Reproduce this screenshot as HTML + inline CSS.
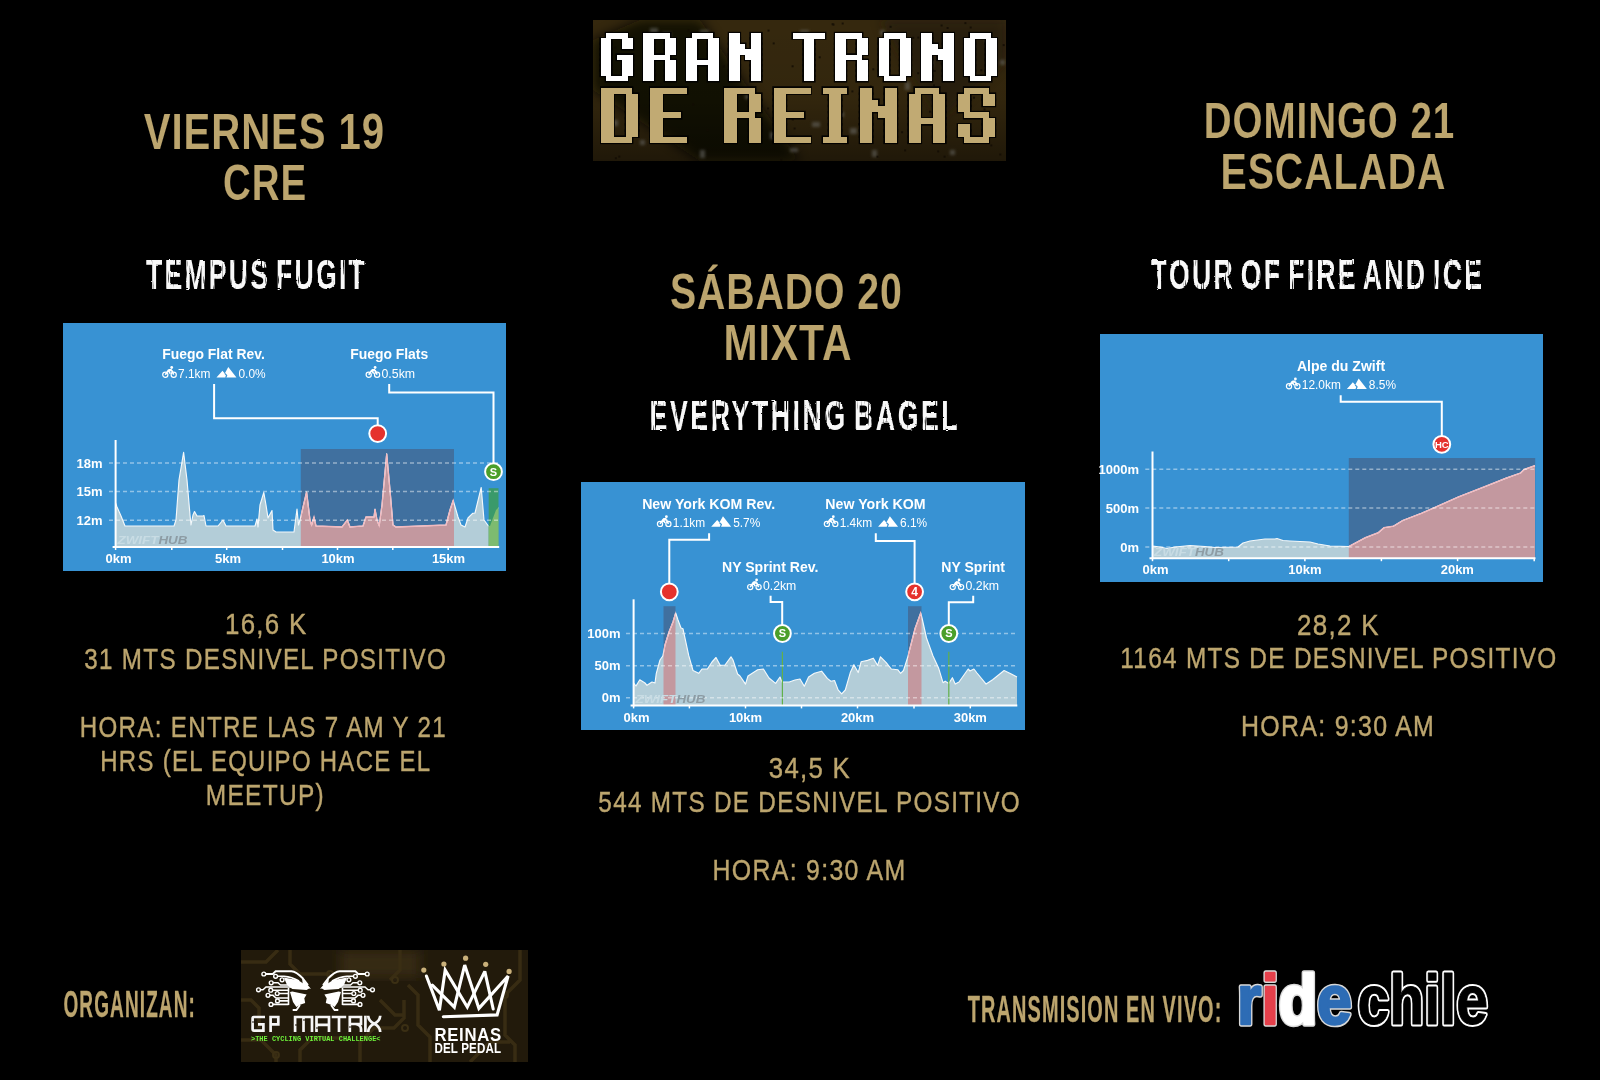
<!DOCTYPE html><html><head><meta charset="utf-8"><style>html,body{margin:0;padding:0;background:#000;width:1600px;height:1080px;overflow:hidden}svg{display:block;will-change:transform}</style></head><body>
<svg width="1600" height="1080" viewBox="0 0 1600 1080">
<defs><filter id="rough" x="-5%" y="-20%" width="110%" height="140%"><feTurbulence type="fractalNoise" baseFrequency="0.07 0.8" numOctaves="2" seed="3" result="n"/><feDisplacementMap in="SourceGraphic" in2="n" scale="3" result="d"/><feTurbulence type="fractalNoise" baseFrequency="0.9 0.06" numOctaves="1" seed="7" result="n2"/><feColorMatrix in="n2" type="matrix" values="0 0 0 0 1  0 0 0 0 1  0 0 0 0 1  -8 0 0 0 6.0" result="m"/><feComposite in="d" in2="m" operator="in"/></filter></defs>
<rect x="0" y="0" width="1600" height="1080" fill="#000"/>
<defs><linearGradient id="lg1" x1="0" y1="0" x2="1" y2="1"><stop offset="0" stop-color="#2a1f0a"/><stop offset="0.5" stop-color="#3b2c10"/><stop offset="1" stop-color="#35280e"/></linearGradient><filter id="blur3"><feGaussianBlur stdDeviation="6"/></filter></defs>
<rect x="593" y="20" width="413" height="141" fill="#35280e"/>
<g clip-path="url(#logoclip)">
<clipPath id="logoclip"><rect x="593" y="20" width="413" height="141"/></clipPath>
<linearGradient id="lgdark" x1="0" y1="0" x2="0" y2="1"><stop offset="0" stop-color="#000" stop-opacity="0"/><stop offset="0.55" stop-color="#000" stop-opacity="0.05"/><stop offset="1" stop-color="#000" stop-opacity="0.4"/></linearGradient>
<polygon points="593,40 640,20 700,20 800,161 700,161 593,90" fill="#100b04" opacity="0.85" filter="url(#blur3)"/>
<rect x="593" y="20" width="413" height="141" fill="url(#lgdark)"/>
<polygon points="880,20 1006,20 1006,60 940,120" fill="#1a1307" opacity="0.5" filter="url(#blur3)"/>
<filter id="blur1"><feGaussianBlur stdDeviation="1.6"/></filter>
<g opacity="0.55" filter="url(#blur1)"><rect x="650" y="28" width="8" height="6" fill="#6a6a66"/><rect x="662" y="32" width="9" height="6" fill="#6a6a66"/><rect x="700" y="30" width="9" height="8" fill="#6a6a66"/><rect x="688" y="40" width="4" height="7" fill="#6a6a66"/><rect x="745" y="95" width="5" height="4" fill="#6a6a66"/><rect x="755" y="105" width="5" height="4" fill="#6a6a66"/><rect x="730" y="118" width="6" height="7" fill="#6a6a66"/><rect x="770" y="132" width="5" height="7" fill="#6a6a66"/><rect x="790" y="148" width="8" height="4" fill="#6a6a66"/><rect x="812" y="122" width="8" height="5" fill="#6a6a66"/><rect x="840" y="112" width="4" height="5" fill="#6a6a66"/><rect x="850" y="128" width="7" height="6" fill="#6a6a66"/><rect x="872" y="150" width="5" height="7" fill="#6a6a66"/><rect x="865" y="100" width="5" height="4" fill="#6a6a66"/><rect x="905" y="82" width="5" height="8" fill="#6a6a66"/><rect x="925" y="60" width="8" height="7" fill="#6a6a66"/><rect x="950" y="150" width="5" height="5" fill="#6a6a66"/><rect x="985" y="38" width="4" height="4" fill="#6a6a66"/><rect x="1000" y="60" width="5" height="5" fill="#6a6a66"/><rect x="640" y="140" width="5" height="5" fill="#6a6a66"/><rect x="612" y="120" width="6" height="6" fill="#6a6a66"/><rect x="700" y="150" width="5" height="8" fill="#6a6a66"/><rect x="800" y="30" width="9" height="5" fill="#6a6a66"/><rect x="880" y="30" width="5" height="5" fill="#6a6a66"/></g>
<g fill="#120c04" opacity="0.8"><rect x="990.3" y="144.4" width="2" height="2"/><rect x="717.2" y="71.5" width="2" height="2"/><rect x="662.9" y="42.0" width="2" height="2"/><rect x="621.6" y="63.3" width="2" height="2"/><rect x="841.7" y="22.5" width="2" height="2"/><rect x="872.3" y="68.3" width="2" height="2"/><rect x="721.8" y="134.1" width="2" height="2"/><rect x="791.6" y="65.3" width="2" height="2"/><rect x="791.8" y="118.5" width="2" height="2"/><rect x="618.3" y="155.6" width="2" height="2"/><rect x="604.4" y="124.7" width="2" height="2"/><rect x="940.6" y="24.5" width="2" height="2"/><rect x="917.2" y="72.2" width="2" height="2"/><rect x="831.6" y="23.2" width="2" height="2"/><rect x="614.1" y="46.8" width="2" height="2"/><rect x="985.7" y="48.9" width="2" height="2"/><rect x="904.1" y="149.4" width="2" height="2"/><rect x="980.3" y="69.2" width="2" height="2"/><rect x="740.1" y="93.9" width="2" height="2"/><rect x="912.2" y="36.8" width="2" height="2"/><rect x="901.1" y="131.2" width="2" height="2"/><rect x="946.6" y="27.0" width="2" height="2"/><rect x="981.8" y="34.5" width="2" height="2"/><rect x="734.4" y="105.7" width="2" height="2"/><rect x="970.5" y="68.6" width="2" height="2"/><rect x="973.0" y="96.7" width="2" height="2"/><rect x="722.8" y="65.4" width="2" height="2"/><rect x="667.6" y="32.7" width="2" height="2"/><rect x="655.9" y="116.4" width="2" height="2"/><rect x="1002.7" y="44.1" width="2" height="2"/><rect x="614.9" y="157.2" width="2" height="2"/><rect x="813.2" y="77.6" width="2" height="2"/><rect x="692.1" y="103.4" width="2" height="2"/><rect x="933.0" y="84.4" width="2" height="2"/><rect x="767.5" y="29.6" width="2" height="2"/><rect x="969.7" y="26.5" width="2" height="2"/><rect x="796.9" y="136.9" width="2" height="2"/><rect x="648.4" y="122.2" width="2" height="2"/><rect x="983.5" y="108.4" width="2" height="2"/><rect x="917.3" y="36.6" width="2" height="2"/><rect x="772.7" y="42.4" width="2" height="2"/><rect x="940.5" y="62.4" width="2" height="2"/><rect x="780.3" y="158.9" width="2" height="2"/><rect x="943.6" y="155.7" width="2" height="2"/><rect x="780.5" y="88.9" width="2" height="2"/><rect x="893.4" y="87.6" width="2" height="2"/><rect x="714.0" y="77.3" width="2" height="2"/><rect x="654.9" y="73.6" width="2" height="2"/><rect x="999.3" y="153.5" width="2" height="2"/><rect x="851.4" y="90.4" width="2" height="2"/><rect x="733.4" y="34.2" width="2" height="2"/><rect x="706.4" y="129.1" width="2" height="2"/><rect x="949.8" y="71.5" width="2" height="2"/><rect x="916.5" y="128.2" width="2" height="2"/><rect x="879.1" y="113.0" width="2" height="2"/><rect x="905.7" y="71.8" width="2" height="2"/><rect x="883.1" y="60.5" width="2" height="2"/><rect x="793.6" y="127.5" width="2" height="2"/><rect x="877.6" y="62.3" width="2" height="2"/><rect x="981.7" y="111.0" width="2" height="2"/><rect x="832.5" y="23.6" width="2" height="2"/><rect x="818.7" y="56.3" width="2" height="2"/><rect x="869.7" y="85.4" width="2" height="2"/><rect x="929.0" y="110.7" width="2" height="2"/><rect x="921.2" y="69.7" width="2" height="2"/><rect x="858.4" y="123.1" width="2" height="2"/><rect x="933.7" y="70.0" width="2" height="2"/><rect x="939.7" y="141.2" width="2" height="2"/><rect x="876.5" y="155.7" width="2" height="2"/><rect x="986.2" y="93.0" width="2" height="2"/><rect x="811.5" y="44.8" width="2" height="2"/><rect x="937.2" y="150.4" width="2" height="2"/><rect x="790.2" y="116.7" width="2" height="2"/><rect x="889.4" y="122.1" width="2" height="2"/><rect x="665.3" y="128.9" width="2" height="2"/><rect x="832.6" y="113.2" width="2" height="2"/><rect x="767.1" y="107.5" width="2" height="2"/><rect x="911.9" y="109.3" width="2" height="2"/><rect x="889.6" y="25.8" width="2" height="2"/><rect x="660.4" y="82.4" width="2" height="2"/><rect x="860.9" y="52.0" width="2" height="2"/><rect x="875.6" y="108.4" width="2" height="2"/><rect x="612.1" y="86.6" width="2" height="2"/><rect x="687.5" y="29.4" width="2" height="2"/><rect x="649.6" y="65.5" width="2" height="2"/><rect x="669.3" y="48.5" width="2" height="2"/><rect x="609.6" y="85.8" width="2" height="2"/><rect x="750.5" y="105.8" width="2" height="2"/><rect x="836.4" y="54.6" width="2" height="2"/><rect x="964.4" y="22.1" width="2" height="2"/></g>
</g>
<g fill="#000" opacity="0.9"><rect x="604.70" y="31.80" width="24.20" height="7.95"/><rect x="599.30" y="37.15" width="13.40" height="7.95"/><rect x="620.90" y="37.15" width="13.40" height="7.95"/><rect x="599.30" y="42.50" width="13.40" height="7.95"/><rect x="620.90" y="42.50" width="13.40" height="7.95"/><rect x="599.30" y="47.85" width="13.40" height="7.95"/><rect x="599.30" y="53.20" width="13.40" height="7.95"/><rect x="615.50" y="53.20" width="18.80" height="7.95"/><rect x="599.30" y="58.55" width="13.40" height="7.95"/><rect x="620.90" y="58.55" width="13.40" height="7.95"/><rect x="599.30" y="63.90" width="13.40" height="7.95"/><rect x="620.90" y="63.90" width="13.40" height="7.95"/><rect x="599.30" y="69.25" width="13.40" height="7.95"/><rect x="620.90" y="69.25" width="13.40" height="7.95"/><rect x="604.70" y="74.60" width="24.20" height="7.95"/><rect x="642.00" y="31.80" width="29.60" height="7.95"/><rect x="642.00" y="37.15" width="13.40" height="7.95"/><rect x="663.60" y="37.15" width="13.40" height="7.95"/><rect x="642.00" y="42.50" width="13.40" height="7.95"/><rect x="663.60" y="42.50" width="13.40" height="7.95"/><rect x="642.00" y="47.85" width="13.40" height="7.95"/><rect x="663.60" y="47.85" width="13.40" height="7.95"/><rect x="642.00" y="53.20" width="29.60" height="7.95"/><rect x="642.00" y="58.55" width="13.40" height="7.95"/><rect x="663.60" y="58.55" width="13.40" height="7.95"/><rect x="642.00" y="63.90" width="13.40" height="7.95"/><rect x="663.60" y="63.90" width="13.40" height="7.95"/><rect x="642.00" y="69.25" width="13.40" height="7.95"/><rect x="663.60" y="69.25" width="13.40" height="7.95"/><rect x="642.00" y="74.60" width="13.40" height="7.95"/><rect x="663.60" y="74.60" width="13.40" height="7.95"/><rect x="690.40" y="31.80" width="24.20" height="7.95"/><rect x="685.00" y="37.15" width="13.40" height="7.95"/><rect x="706.60" y="37.15" width="13.40" height="7.95"/><rect x="685.00" y="42.50" width="13.40" height="7.95"/><rect x="706.60" y="42.50" width="13.40" height="7.95"/><rect x="685.00" y="47.85" width="13.40" height="7.95"/><rect x="706.60" y="47.85" width="13.40" height="7.95"/><rect x="685.00" y="53.20" width="13.40" height="7.95"/><rect x="706.60" y="53.20" width="13.40" height="7.95"/><rect x="685.00" y="58.55" width="35.00" height="7.95"/><rect x="685.00" y="63.90" width="13.40" height="7.95"/><rect x="706.60" y="63.90" width="13.40" height="7.95"/><rect x="685.00" y="69.25" width="13.40" height="7.95"/><rect x="706.60" y="69.25" width="13.40" height="7.95"/><rect x="685.00" y="74.60" width="13.40" height="7.95"/><rect x="706.60" y="74.60" width="13.40" height="7.95"/><rect x="727.70" y="31.80" width="13.40" height="7.95"/><rect x="749.30" y="31.80" width="13.40" height="7.95"/><rect x="727.70" y="37.15" width="13.40" height="7.95"/><rect x="749.30" y="37.15" width="13.40" height="7.95"/><rect x="727.70" y="42.50" width="18.80" height="7.95"/><rect x="749.30" y="42.50" width="13.40" height="7.95"/><rect x="727.70" y="47.85" width="35.00" height="7.95"/><rect x="727.70" y="53.20" width="13.40" height="7.95"/><rect x="743.90" y="53.20" width="18.80" height="7.95"/><rect x="727.70" y="58.55" width="13.40" height="7.95"/><rect x="749.30" y="58.55" width="13.40" height="7.95"/><rect x="727.70" y="63.90" width="13.40" height="7.95"/><rect x="749.30" y="63.90" width="13.40" height="7.95"/><rect x="727.70" y="69.25" width="13.40" height="7.95"/><rect x="749.30" y="69.25" width="13.40" height="7.95"/><rect x="727.70" y="74.60" width="13.40" height="7.95"/><rect x="749.30" y="74.60" width="13.40" height="7.95"/><rect x="791.40" y="31.80" width="35.00" height="7.95"/><rect x="802.20" y="37.15" width="13.40" height="7.95"/><rect x="802.20" y="42.50" width="13.40" height="7.95"/><rect x="802.20" y="47.85" width="13.40" height="7.95"/><rect x="802.20" y="53.20" width="13.40" height="7.95"/><rect x="802.20" y="58.55" width="13.40" height="7.95"/><rect x="802.20" y="63.90" width="13.40" height="7.95"/><rect x="802.20" y="69.25" width="13.40" height="7.95"/><rect x="802.20" y="74.60" width="13.40" height="7.95"/><rect x="833.80" y="31.80" width="29.60" height="7.95"/><rect x="833.80" y="37.15" width="13.40" height="7.95"/><rect x="855.40" y="37.15" width="13.40" height="7.95"/><rect x="833.80" y="42.50" width="13.40" height="7.95"/><rect x="855.40" y="42.50" width="13.40" height="7.95"/><rect x="833.80" y="47.85" width="13.40" height="7.95"/><rect x="855.40" y="47.85" width="13.40" height="7.95"/><rect x="833.80" y="53.20" width="29.60" height="7.95"/><rect x="833.80" y="58.55" width="13.40" height="7.95"/><rect x="855.40" y="58.55" width="13.40" height="7.95"/><rect x="833.80" y="63.90" width="13.40" height="7.95"/><rect x="855.40" y="63.90" width="13.40" height="7.95"/><rect x="833.80" y="69.25" width="13.40" height="7.95"/><rect x="855.40" y="69.25" width="13.40" height="7.95"/><rect x="833.80" y="74.60" width="13.40" height="7.95"/><rect x="855.40" y="74.60" width="13.40" height="7.95"/><rect x="882.60" y="31.80" width="24.20" height="7.95"/><rect x="877.20" y="37.15" width="13.40" height="7.95"/><rect x="898.80" y="37.15" width="13.40" height="7.95"/><rect x="877.20" y="42.50" width="13.40" height="7.95"/><rect x="898.80" y="42.50" width="13.40" height="7.95"/><rect x="877.20" y="47.85" width="13.40" height="7.95"/><rect x="898.80" y="47.85" width="13.40" height="7.95"/><rect x="877.20" y="53.20" width="13.40" height="7.95"/><rect x="898.80" y="53.20" width="13.40" height="7.95"/><rect x="877.20" y="58.55" width="13.40" height="7.95"/><rect x="898.80" y="58.55" width="13.40" height="7.95"/><rect x="877.20" y="63.90" width="13.40" height="7.95"/><rect x="898.80" y="63.90" width="13.40" height="7.95"/><rect x="877.20" y="69.25" width="13.40" height="7.95"/><rect x="898.80" y="69.25" width="13.40" height="7.95"/><rect x="882.60" y="74.60" width="24.20" height="7.95"/><rect x="920.00" y="31.80" width="13.40" height="7.95"/><rect x="941.60" y="31.80" width="13.40" height="7.95"/><rect x="920.00" y="37.15" width="13.40" height="7.95"/><rect x="941.60" y="37.15" width="13.40" height="7.95"/><rect x="920.00" y="42.50" width="18.80" height="7.95"/><rect x="941.60" y="42.50" width="13.40" height="7.95"/><rect x="920.00" y="47.85" width="35.00" height="7.95"/><rect x="920.00" y="53.20" width="13.40" height="7.95"/><rect x="936.20" y="53.20" width="18.80" height="7.95"/><rect x="920.00" y="58.55" width="13.40" height="7.95"/><rect x="941.60" y="58.55" width="13.40" height="7.95"/><rect x="920.00" y="63.90" width="13.40" height="7.95"/><rect x="941.60" y="63.90" width="13.40" height="7.95"/><rect x="920.00" y="69.25" width="13.40" height="7.95"/><rect x="941.60" y="69.25" width="13.40" height="7.95"/><rect x="920.00" y="74.60" width="13.40" height="7.95"/><rect x="941.60" y="74.60" width="13.40" height="7.95"/><rect x="968.30" y="31.80" width="24.20" height="7.95"/><rect x="962.90" y="37.15" width="13.40" height="7.95"/><rect x="984.50" y="37.15" width="13.40" height="7.95"/><rect x="962.90" y="42.50" width="13.40" height="7.95"/><rect x="984.50" y="42.50" width="13.40" height="7.95"/><rect x="962.90" y="47.85" width="13.40" height="7.95"/><rect x="984.50" y="47.85" width="13.40" height="7.95"/><rect x="962.90" y="53.20" width="13.40" height="7.95"/><rect x="984.50" y="53.20" width="13.40" height="7.95"/><rect x="962.90" y="58.55" width="13.40" height="7.95"/><rect x="984.50" y="58.55" width="13.40" height="7.95"/><rect x="962.90" y="63.90" width="13.40" height="7.95"/><rect x="984.50" y="63.90" width="13.40" height="7.95"/><rect x="962.90" y="69.25" width="13.40" height="7.95"/><rect x="984.50" y="69.25" width="13.40" height="7.95"/><rect x="968.30" y="74.60" width="24.20" height="7.95"/></g>
<g fill="#ffffff" shape-rendering="crispEdges"><rect x="606.00" y="33.10" width="21.60" height="5.40"/><rect x="600.60" y="38.45" width="10.80" height="5.40"/><rect x="622.20" y="38.45" width="10.80" height="5.40"/><rect x="600.60" y="43.80" width="10.80" height="5.40"/><rect x="622.20" y="43.80" width="10.80" height="5.40"/><rect x="600.60" y="49.15" width="10.80" height="5.40"/><rect x="600.60" y="54.50" width="10.80" height="5.40"/><rect x="616.80" y="54.50" width="16.20" height="5.40"/><rect x="600.60" y="59.85" width="10.80" height="5.40"/><rect x="622.20" y="59.85" width="10.80" height="5.40"/><rect x="600.60" y="65.20" width="10.80" height="5.40"/><rect x="622.20" y="65.20" width="10.80" height="5.40"/><rect x="600.60" y="70.55" width="10.80" height="5.40"/><rect x="622.20" y="70.55" width="10.80" height="5.40"/><rect x="606.00" y="75.90" width="21.60" height="5.40"/><rect x="643.30" y="33.10" width="27.00" height="5.40"/><rect x="643.30" y="38.45" width="10.80" height="5.40"/><rect x="664.90" y="38.45" width="10.80" height="5.40"/><rect x="643.30" y="43.80" width="10.80" height="5.40"/><rect x="664.90" y="43.80" width="10.80" height="5.40"/><rect x="643.30" y="49.15" width="10.80" height="5.40"/><rect x="664.90" y="49.15" width="10.80" height="5.40"/><rect x="643.30" y="54.50" width="27.00" height="5.40"/><rect x="643.30" y="59.85" width="10.80" height="5.40"/><rect x="664.90" y="59.85" width="10.80" height="5.40"/><rect x="643.30" y="65.20" width="10.80" height="5.40"/><rect x="664.90" y="65.20" width="10.80" height="5.40"/><rect x="643.30" y="70.55" width="10.80" height="5.40"/><rect x="664.90" y="70.55" width="10.80" height="5.40"/><rect x="643.30" y="75.90" width="10.80" height="5.40"/><rect x="664.90" y="75.90" width="10.80" height="5.40"/><rect x="691.70" y="33.10" width="21.60" height="5.40"/><rect x="686.30" y="38.45" width="10.80" height="5.40"/><rect x="707.90" y="38.45" width="10.80" height="5.40"/><rect x="686.30" y="43.80" width="10.80" height="5.40"/><rect x="707.90" y="43.80" width="10.80" height="5.40"/><rect x="686.30" y="49.15" width="10.80" height="5.40"/><rect x="707.90" y="49.15" width="10.80" height="5.40"/><rect x="686.30" y="54.50" width="10.80" height="5.40"/><rect x="707.90" y="54.50" width="10.80" height="5.40"/><rect x="686.30" y="59.85" width="32.40" height="5.40"/><rect x="686.30" y="65.20" width="10.80" height="5.40"/><rect x="707.90" y="65.20" width="10.80" height="5.40"/><rect x="686.30" y="70.55" width="10.80" height="5.40"/><rect x="707.90" y="70.55" width="10.80" height="5.40"/><rect x="686.30" y="75.90" width="10.80" height="5.40"/><rect x="707.90" y="75.90" width="10.80" height="5.40"/><rect x="729.00" y="33.10" width="10.80" height="5.40"/><rect x="750.60" y="33.10" width="10.80" height="5.40"/><rect x="729.00" y="38.45" width="10.80" height="5.40"/><rect x="750.60" y="38.45" width="10.80" height="5.40"/><rect x="729.00" y="43.80" width="16.20" height="5.40"/><rect x="750.60" y="43.80" width="10.80" height="5.40"/><rect x="729.00" y="49.15" width="32.40" height="5.40"/><rect x="729.00" y="54.50" width="10.80" height="5.40"/><rect x="745.20" y="54.50" width="16.20" height="5.40"/><rect x="729.00" y="59.85" width="10.80" height="5.40"/><rect x="750.60" y="59.85" width="10.80" height="5.40"/><rect x="729.00" y="65.20" width="10.80" height="5.40"/><rect x="750.60" y="65.20" width="10.80" height="5.40"/><rect x="729.00" y="70.55" width="10.80" height="5.40"/><rect x="750.60" y="70.55" width="10.80" height="5.40"/><rect x="729.00" y="75.90" width="10.80" height="5.40"/><rect x="750.60" y="75.90" width="10.80" height="5.40"/><rect x="792.70" y="33.10" width="32.40" height="5.40"/><rect x="803.50" y="38.45" width="10.80" height="5.40"/><rect x="803.50" y="43.80" width="10.80" height="5.40"/><rect x="803.50" y="49.15" width="10.80" height="5.40"/><rect x="803.50" y="54.50" width="10.80" height="5.40"/><rect x="803.50" y="59.85" width="10.80" height="5.40"/><rect x="803.50" y="65.20" width="10.80" height="5.40"/><rect x="803.50" y="70.55" width="10.80" height="5.40"/><rect x="803.50" y="75.90" width="10.80" height="5.40"/><rect x="835.10" y="33.10" width="27.00" height="5.40"/><rect x="835.10" y="38.45" width="10.80" height="5.40"/><rect x="856.70" y="38.45" width="10.80" height="5.40"/><rect x="835.10" y="43.80" width="10.80" height="5.40"/><rect x="856.70" y="43.80" width="10.80" height="5.40"/><rect x="835.10" y="49.15" width="10.80" height="5.40"/><rect x="856.70" y="49.15" width="10.80" height="5.40"/><rect x="835.10" y="54.50" width="27.00" height="5.40"/><rect x="835.10" y="59.85" width="10.80" height="5.40"/><rect x="856.70" y="59.85" width="10.80" height="5.40"/><rect x="835.10" y="65.20" width="10.80" height="5.40"/><rect x="856.70" y="65.20" width="10.80" height="5.40"/><rect x="835.10" y="70.55" width="10.80" height="5.40"/><rect x="856.70" y="70.55" width="10.80" height="5.40"/><rect x="835.10" y="75.90" width="10.80" height="5.40"/><rect x="856.70" y="75.90" width="10.80" height="5.40"/><rect x="883.90" y="33.10" width="21.60" height="5.40"/><rect x="878.50" y="38.45" width="10.80" height="5.40"/><rect x="900.10" y="38.45" width="10.80" height="5.40"/><rect x="878.50" y="43.80" width="10.80" height="5.40"/><rect x="900.10" y="43.80" width="10.80" height="5.40"/><rect x="878.50" y="49.15" width="10.80" height="5.40"/><rect x="900.10" y="49.15" width="10.80" height="5.40"/><rect x="878.50" y="54.50" width="10.80" height="5.40"/><rect x="900.10" y="54.50" width="10.80" height="5.40"/><rect x="878.50" y="59.85" width="10.80" height="5.40"/><rect x="900.10" y="59.85" width="10.80" height="5.40"/><rect x="878.50" y="65.20" width="10.80" height="5.40"/><rect x="900.10" y="65.20" width="10.80" height="5.40"/><rect x="878.50" y="70.55" width="10.80" height="5.40"/><rect x="900.10" y="70.55" width="10.80" height="5.40"/><rect x="883.90" y="75.90" width="21.60" height="5.40"/><rect x="921.30" y="33.10" width="10.80" height="5.40"/><rect x="942.90" y="33.10" width="10.80" height="5.40"/><rect x="921.30" y="38.45" width="10.80" height="5.40"/><rect x="942.90" y="38.45" width="10.80" height="5.40"/><rect x="921.30" y="43.80" width="16.20" height="5.40"/><rect x="942.90" y="43.80" width="10.80" height="5.40"/><rect x="921.30" y="49.15" width="32.40" height="5.40"/><rect x="921.30" y="54.50" width="10.80" height="5.40"/><rect x="937.50" y="54.50" width="16.20" height="5.40"/><rect x="921.30" y="59.85" width="10.80" height="5.40"/><rect x="942.90" y="59.85" width="10.80" height="5.40"/><rect x="921.30" y="65.20" width="10.80" height="5.40"/><rect x="942.90" y="65.20" width="10.80" height="5.40"/><rect x="921.30" y="70.55" width="10.80" height="5.40"/><rect x="942.90" y="70.55" width="10.80" height="5.40"/><rect x="921.30" y="75.90" width="10.80" height="5.40"/><rect x="942.90" y="75.90" width="10.80" height="5.40"/><rect x="969.60" y="33.10" width="21.60" height="5.40"/><rect x="964.20" y="38.45" width="10.80" height="5.40"/><rect x="985.80" y="38.45" width="10.80" height="5.40"/><rect x="964.20" y="43.80" width="10.80" height="5.40"/><rect x="985.80" y="43.80" width="10.80" height="5.40"/><rect x="964.20" y="49.15" width="10.80" height="5.40"/><rect x="985.80" y="49.15" width="10.80" height="5.40"/><rect x="964.20" y="54.50" width="10.80" height="5.40"/><rect x="985.80" y="54.50" width="10.80" height="5.40"/><rect x="964.20" y="59.85" width="10.80" height="5.40"/><rect x="985.80" y="59.85" width="10.80" height="5.40"/><rect x="964.20" y="65.20" width="10.80" height="5.40"/><rect x="985.80" y="65.20" width="10.80" height="5.40"/><rect x="964.20" y="70.55" width="10.80" height="5.40"/><rect x="985.80" y="70.55" width="10.80" height="5.40"/><rect x="969.60" y="75.90" width="21.60" height="5.40"/></g>
<g fill="#000" opacity="0.9"><rect x="600.00" y="86.20" width="33.35" height="8.75"/><rect x="600.00" y="92.35" width="14.90" height="8.75"/><rect x="624.60" y="92.35" width="14.90" height="8.75"/><rect x="600.00" y="98.50" width="14.90" height="8.75"/><rect x="624.60" y="98.50" width="14.90" height="8.75"/><rect x="600.00" y="104.65" width="14.90" height="8.75"/><rect x="624.60" y="104.65" width="14.90" height="8.75"/><rect x="600.00" y="110.80" width="14.90" height="8.75"/><rect x="624.60" y="110.80" width="14.90" height="8.75"/><rect x="600.00" y="116.95" width="14.90" height="8.75"/><rect x="624.60" y="116.95" width="14.90" height="8.75"/><rect x="600.00" y="123.10" width="14.90" height="8.75"/><rect x="624.60" y="123.10" width="14.90" height="8.75"/><rect x="600.00" y="129.25" width="14.90" height="8.75"/><rect x="624.60" y="129.25" width="14.90" height="8.75"/><rect x="600.00" y="135.40" width="33.35" height="8.75"/><rect x="649.10" y="86.20" width="39.50" height="8.75"/><rect x="649.10" y="92.35" width="14.90" height="8.75"/><rect x="649.10" y="98.50" width="14.90" height="8.75"/><rect x="649.10" y="104.65" width="14.90" height="8.75"/><rect x="649.10" y="110.80" width="33.35" height="8.75"/><rect x="649.10" y="116.95" width="14.90" height="8.75"/><rect x="649.10" y="123.10" width="14.90" height="8.75"/><rect x="649.10" y="129.25" width="14.90" height="8.75"/><rect x="649.10" y="135.40" width="39.50" height="8.75"/><rect x="723.10" y="86.20" width="33.35" height="8.75"/><rect x="723.10" y="92.35" width="14.90" height="8.75"/><rect x="747.70" y="92.35" width="14.90" height="8.75"/><rect x="723.10" y="98.50" width="14.90" height="8.75"/><rect x="747.70" y="98.50" width="14.90" height="8.75"/><rect x="723.10" y="104.65" width="14.90" height="8.75"/><rect x="747.70" y="104.65" width="14.90" height="8.75"/><rect x="723.10" y="110.80" width="33.35" height="8.75"/><rect x="723.10" y="116.95" width="14.90" height="8.75"/><rect x="747.70" y="116.95" width="14.90" height="8.75"/><rect x="723.10" y="123.10" width="14.90" height="8.75"/><rect x="747.70" y="123.10" width="14.90" height="8.75"/><rect x="723.10" y="129.25" width="14.90" height="8.75"/><rect x="747.70" y="129.25" width="14.90" height="8.75"/><rect x="723.10" y="135.40" width="14.90" height="8.75"/><rect x="747.70" y="135.40" width="14.90" height="8.75"/><rect x="772.30" y="86.20" width="39.50" height="8.75"/><rect x="772.30" y="92.35" width="14.90" height="8.75"/><rect x="772.30" y="98.50" width="14.90" height="8.75"/><rect x="772.30" y="104.65" width="14.90" height="8.75"/><rect x="772.30" y="110.80" width="33.35" height="8.75"/><rect x="772.30" y="116.95" width="14.90" height="8.75"/><rect x="772.30" y="123.10" width="14.90" height="8.75"/><rect x="772.30" y="129.25" width="14.90" height="8.75"/><rect x="772.30" y="135.40" width="39.50" height="8.75"/><rect x="821.50" y="86.20" width="27.20" height="8.75"/><rect x="827.65" y="92.35" width="14.90" height="8.75"/><rect x="827.65" y="98.50" width="14.90" height="8.75"/><rect x="827.65" y="104.65" width="14.90" height="8.75"/><rect x="827.65" y="110.80" width="14.90" height="8.75"/><rect x="827.65" y="116.95" width="14.90" height="8.75"/><rect x="827.65" y="123.10" width="14.90" height="8.75"/><rect x="827.65" y="129.25" width="14.90" height="8.75"/><rect x="821.50" y="135.40" width="27.20" height="8.75"/><rect x="858.70" y="86.20" width="14.90" height="8.75"/><rect x="883.30" y="86.20" width="14.90" height="8.75"/><rect x="858.70" y="92.35" width="14.90" height="8.75"/><rect x="883.30" y="92.35" width="14.90" height="8.75"/><rect x="858.70" y="98.50" width="21.05" height="8.75"/><rect x="883.30" y="98.50" width="14.90" height="8.75"/><rect x="858.70" y="104.65" width="39.50" height="8.75"/><rect x="858.70" y="110.80" width="14.90" height="8.75"/><rect x="877.15" y="110.80" width="21.05" height="8.75"/><rect x="858.70" y="116.95" width="14.90" height="8.75"/><rect x="883.30" y="116.95" width="14.90" height="8.75"/><rect x="858.70" y="123.10" width="14.90" height="8.75"/><rect x="883.30" y="123.10" width="14.90" height="8.75"/><rect x="858.70" y="129.25" width="14.90" height="8.75"/><rect x="883.30" y="129.25" width="14.90" height="8.75"/><rect x="858.70" y="135.40" width="14.90" height="8.75"/><rect x="883.30" y="135.40" width="14.90" height="8.75"/><rect x="913.35" y="86.20" width="27.20" height="8.75"/><rect x="907.20" y="92.35" width="14.90" height="8.75"/><rect x="931.80" y="92.35" width="14.90" height="8.75"/><rect x="907.20" y="98.50" width="14.90" height="8.75"/><rect x="931.80" y="98.50" width="14.90" height="8.75"/><rect x="907.20" y="104.65" width="14.90" height="8.75"/><rect x="931.80" y="104.65" width="14.90" height="8.75"/><rect x="907.20" y="110.80" width="14.90" height="8.75"/><rect x="931.80" y="110.80" width="14.90" height="8.75"/><rect x="907.20" y="116.95" width="39.50" height="8.75"/><rect x="907.20" y="123.10" width="14.90" height="8.75"/><rect x="931.80" y="123.10" width="14.90" height="8.75"/><rect x="907.20" y="129.25" width="14.90" height="8.75"/><rect x="931.80" y="129.25" width="14.90" height="8.75"/><rect x="907.20" y="135.40" width="14.90" height="8.75"/><rect x="931.80" y="135.40" width="14.90" height="8.75"/><rect x="962.85" y="86.20" width="27.20" height="8.75"/><rect x="956.70" y="92.35" width="14.90" height="8.75"/><rect x="981.30" y="92.35" width="14.90" height="8.75"/><rect x="956.70" y="98.50" width="14.90" height="8.75"/><rect x="981.30" y="98.50" width="14.90" height="8.75"/><rect x="956.70" y="104.65" width="14.90" height="8.75"/><rect x="962.85" y="110.80" width="27.20" height="8.75"/><rect x="981.30" y="116.95" width="14.90" height="8.75"/><rect x="956.70" y="123.10" width="14.90" height="8.75"/><rect x="981.30" y="123.10" width="14.90" height="8.75"/><rect x="956.70" y="129.25" width="14.90" height="8.75"/><rect x="981.30" y="129.25" width="14.90" height="8.75"/><rect x="962.85" y="135.40" width="27.20" height="8.75"/></g>
<g fill="#c1aa73" shape-rendering="crispEdges"><rect x="601.30" y="87.50" width="30.75" height="6.20"/><rect x="601.30" y="93.65" width="12.30" height="6.20"/><rect x="625.90" y="93.65" width="12.30" height="6.20"/><rect x="601.30" y="99.80" width="12.30" height="6.20"/><rect x="625.90" y="99.80" width="12.30" height="6.20"/><rect x="601.30" y="105.95" width="12.30" height="6.20"/><rect x="625.90" y="105.95" width="12.30" height="6.20"/><rect x="601.30" y="112.10" width="12.30" height="6.20"/><rect x="625.90" y="112.10" width="12.30" height="6.20"/><rect x="601.30" y="118.25" width="12.30" height="6.20"/><rect x="625.90" y="118.25" width="12.30" height="6.20"/><rect x="601.30" y="124.40" width="12.30" height="6.20"/><rect x="625.90" y="124.40" width="12.30" height="6.20"/><rect x="601.30" y="130.55" width="12.30" height="6.20"/><rect x="625.90" y="130.55" width="12.30" height="6.20"/><rect x="601.30" y="136.70" width="30.75" height="6.20"/><rect x="650.40" y="87.50" width="36.90" height="6.20"/><rect x="650.40" y="93.65" width="12.30" height="6.20"/><rect x="650.40" y="99.80" width="12.30" height="6.20"/><rect x="650.40" y="105.95" width="12.30" height="6.20"/><rect x="650.40" y="112.10" width="30.75" height="6.20"/><rect x="650.40" y="118.25" width="12.30" height="6.20"/><rect x="650.40" y="124.40" width="12.30" height="6.20"/><rect x="650.40" y="130.55" width="12.30" height="6.20"/><rect x="650.40" y="136.70" width="36.90" height="6.20"/><rect x="724.40" y="87.50" width="30.75" height="6.20"/><rect x="724.40" y="93.65" width="12.30" height="6.20"/><rect x="749.00" y="93.65" width="12.30" height="6.20"/><rect x="724.40" y="99.80" width="12.30" height="6.20"/><rect x="749.00" y="99.80" width="12.30" height="6.20"/><rect x="724.40" y="105.95" width="12.30" height="6.20"/><rect x="749.00" y="105.95" width="12.30" height="6.20"/><rect x="724.40" y="112.10" width="30.75" height="6.20"/><rect x="724.40" y="118.25" width="12.30" height="6.20"/><rect x="749.00" y="118.25" width="12.30" height="6.20"/><rect x="724.40" y="124.40" width="12.30" height="6.20"/><rect x="749.00" y="124.40" width="12.30" height="6.20"/><rect x="724.40" y="130.55" width="12.30" height="6.20"/><rect x="749.00" y="130.55" width="12.30" height="6.20"/><rect x="724.40" y="136.70" width="12.30" height="6.20"/><rect x="749.00" y="136.70" width="12.30" height="6.20"/><rect x="773.60" y="87.50" width="36.90" height="6.20"/><rect x="773.60" y="93.65" width="12.30" height="6.20"/><rect x="773.60" y="99.80" width="12.30" height="6.20"/><rect x="773.60" y="105.95" width="12.30" height="6.20"/><rect x="773.60" y="112.10" width="30.75" height="6.20"/><rect x="773.60" y="118.25" width="12.30" height="6.20"/><rect x="773.60" y="124.40" width="12.30" height="6.20"/><rect x="773.60" y="130.55" width="12.30" height="6.20"/><rect x="773.60" y="136.70" width="36.90" height="6.20"/><rect x="822.80" y="87.50" width="24.60" height="6.20"/><rect x="828.95" y="93.65" width="12.30" height="6.20"/><rect x="828.95" y="99.80" width="12.30" height="6.20"/><rect x="828.95" y="105.95" width="12.30" height="6.20"/><rect x="828.95" y="112.10" width="12.30" height="6.20"/><rect x="828.95" y="118.25" width="12.30" height="6.20"/><rect x="828.95" y="124.40" width="12.30" height="6.20"/><rect x="828.95" y="130.55" width="12.30" height="6.20"/><rect x="822.80" y="136.70" width="24.60" height="6.20"/><rect x="860.00" y="87.50" width="12.30" height="6.20"/><rect x="884.60" y="87.50" width="12.30" height="6.20"/><rect x="860.00" y="93.65" width="12.30" height="6.20"/><rect x="884.60" y="93.65" width="12.30" height="6.20"/><rect x="860.00" y="99.80" width="18.45" height="6.20"/><rect x="884.60" y="99.80" width="12.30" height="6.20"/><rect x="860.00" y="105.95" width="36.90" height="6.20"/><rect x="860.00" y="112.10" width="12.30" height="6.20"/><rect x="878.45" y="112.10" width="18.45" height="6.20"/><rect x="860.00" y="118.25" width="12.30" height="6.20"/><rect x="884.60" y="118.25" width="12.30" height="6.20"/><rect x="860.00" y="124.40" width="12.30" height="6.20"/><rect x="884.60" y="124.40" width="12.30" height="6.20"/><rect x="860.00" y="130.55" width="12.30" height="6.20"/><rect x="884.60" y="130.55" width="12.30" height="6.20"/><rect x="860.00" y="136.70" width="12.30" height="6.20"/><rect x="884.60" y="136.70" width="12.30" height="6.20"/><rect x="914.65" y="87.50" width="24.60" height="6.20"/><rect x="908.50" y="93.65" width="12.30" height="6.20"/><rect x="933.10" y="93.65" width="12.30" height="6.20"/><rect x="908.50" y="99.80" width="12.30" height="6.20"/><rect x="933.10" y="99.80" width="12.30" height="6.20"/><rect x="908.50" y="105.95" width="12.30" height="6.20"/><rect x="933.10" y="105.95" width="12.30" height="6.20"/><rect x="908.50" y="112.10" width="12.30" height="6.20"/><rect x="933.10" y="112.10" width="12.30" height="6.20"/><rect x="908.50" y="118.25" width="36.90" height="6.20"/><rect x="908.50" y="124.40" width="12.30" height="6.20"/><rect x="933.10" y="124.40" width="12.30" height="6.20"/><rect x="908.50" y="130.55" width="12.30" height="6.20"/><rect x="933.10" y="130.55" width="12.30" height="6.20"/><rect x="908.50" y="136.70" width="12.30" height="6.20"/><rect x="933.10" y="136.70" width="12.30" height="6.20"/><rect x="964.15" y="87.50" width="24.60" height="6.20"/><rect x="958.00" y="93.65" width="12.30" height="6.20"/><rect x="982.60" y="93.65" width="12.30" height="6.20"/><rect x="958.00" y="99.80" width="12.30" height="6.20"/><rect x="982.60" y="99.80" width="12.30" height="6.20"/><rect x="958.00" y="105.95" width="12.30" height="6.20"/><rect x="964.15" y="112.10" width="24.60" height="6.20"/><rect x="982.60" y="118.25" width="12.30" height="6.20"/><rect x="958.00" y="124.40" width="12.30" height="6.20"/><rect x="982.60" y="124.40" width="12.30" height="6.20"/><rect x="958.00" y="130.55" width="12.30" height="6.20"/><rect x="982.60" y="130.55" width="12.30" height="6.20"/><rect x="964.15" y="136.70" width="24.60" height="6.20"/></g>
<g transform="translate(264.0,149.2) scale(0.8038,1)"><text x="0" y="0" font-family="Liberation Sans" font-size="50" font-weight="bold" fill="#bca56e" text-anchor="middle" textLength="299.08" lengthAdjust="spacing" stroke="#000" stroke-width="0.15">VIERNES 19</text></g>
<g transform="translate(264.6,200.0) scale(0.7711,1)"><text x="0" y="0" font-family="Liberation Sans" font-size="50" font-weight="bold" fill="#bca56e" text-anchor="middle" textLength="107.90" lengthAdjust="spacing" stroke="#000" stroke-width="0.15">CRE</text></g>
<g transform="translate(785.9,308.9) scale(0.7851,1)"><text x="0" y="0" font-family="Liberation Sans" font-size="50" font-weight="bold" fill="#bca56e" text-anchor="middle" textLength="295.38" lengthAdjust="spacing" stroke="#000" stroke-width="0.15">SÁBADO 20</text></g>
<g transform="translate(787.5,359.9) scale(0.8193,1)"><text x="0" y="0" font-family="Liberation Sans" font-size="50" font-weight="bold" fill="#bca56e" text-anchor="middle" textLength="156.23" lengthAdjust="spacing" stroke="#000" stroke-width="0.15">MIXTA</text></g>
<g transform="translate(1329.0,137.9) scale(0.7721,1)"><text x="0" y="0" font-family="Liberation Sans" font-size="50" font-weight="bold" fill="#bca56e" text-anchor="middle" textLength="324.44" lengthAdjust="spacing" stroke="#000" stroke-width="0.15">DOMINGO 21</text></g>
<g transform="translate(1333.0,189.0) scale(0.7873,1)"><text x="0" y="0" font-family="Liberation Sans" font-size="50" font-weight="bold" fill="#bca56e" text-anchor="middle" textLength="285.79" lengthAdjust="spacing" stroke="#000" stroke-width="0.15">ESCALADA</text></g>
<g transform="translate(255.4,288.8) scale(0.62,1)"><text x="0" y="0" font-family="Liberation Sans" font-size="43" font-weight="bold" fill="#f8f8f8" text-anchor="middle" textLength="353.23" lengthAdjust="spacing" filter="url(#rough)" word-spacing="-6">TEMPUS FUGIT</text></g>
<g transform="translate(803.6,429.5) scale(0.62,1)"><text x="0" y="0" font-family="Liberation Sans" font-size="43" font-weight="bold" fill="#f8f8f8" text-anchor="middle" textLength="496.77" lengthAdjust="spacing" filter="url(#rough)" word-spacing="-6">EVERYTHING BAGEL</text></g>
<g transform="translate(1316.5,289.3) scale(0.62,1)"><text x="0" y="0" font-family="Liberation Sans" font-size="43" font-weight="bold" fill="#f8f8f8" text-anchor="middle" textLength="533.87" lengthAdjust="spacing" filter="url(#rough)" word-spacing="-6">TOUR OF FIRE AND ICE</text></g>
<rect x="63" y="323" width="443" height="248" fill="#3892d3"/>
<rect x="300.8" y="449" width="153.2" height="98" fill="#40709f"/>
<polygon points="115.6,547 115.6,503 117,507 121,516 125,526 174,526 176,520 179,480 183.6,452.3 187,480 190,515 191,525 193,515 194.5,511.5 197,516 203,516 204,515.5 206,526 218,526 223,520 226,526 255,526 257,519 258,527 260,505 263.8,492.5 266,505 268,518 272,510.5 273,530 276,532 294,532 297,509 298.5,525 300,520 306.6,492 310,520 311.6,525 314,517 316,526 342,527 347.3,520 350,527 363,526 366,517 374,517 375,509 377,520 379.2,525.6 382,505 386.7,453.7 390,490 393,525 396,527 446,525 450,510 453.2,500.4 458,517 461,525 465,527 468,518 472.6,513.4 475,513 481.2,487.5 484,520 488.4,526 490,526 496,510 498.5,507.6 498.5,547" fill="#b3cdd8"/>
<clipPath id="c1p0"><rect x="300.8" y="300" width="153.2" height="500"/></clipPath>
<polygon points="115.6,547 115.6,503 117,507 121,516 125,526 174,526 176,520 179,480 183.6,452.3 187,480 190,515 191,525 193,515 194.5,511.5 197,516 203,516 204,515.5 206,526 218,526 223,520 226,526 255,526 257,519 258,527 260,505 263.8,492.5 266,505 268,518 272,510.5 273,530 276,532 294,532 297,509 298.5,525 300,520 306.6,492 310,520 311.6,525 314,517 316,526 342,527 347.3,520 350,527 363,526 366,517 374,517 375,509 377,520 379.2,525.6 382,505 386.7,453.7 390,490 393,525 396,527 446,525 450,510 453.2,500.4 458,517 461,525 465,527 468,518 472.6,513.4 475,513 481.2,487.5 484,520 488.4,526 490,526 496,510 498.5,507.6 498.5,547" fill="#c3989f" clip-path="url(#c1p0)"/>
<polyline points="115.6,503 117,507 121,516 125,526 174,526 176,520 179,480 183.6,452.3 187,480 190,515 191,525 193,515 194.5,511.5 197,516 203,516 204,515.5 206,526 218,526 223,520 226,526 255,526 257,519 258,527 260,505 263.8,492.5 266,505 268,518 272,510.5 273,530 276,532 294,532 297,509 298.5,525 300,520 306.6,492 310,520 311.6,525 314,517 316,526 342,527 347.3,520 350,527 363,526 366,517 374,517 375,509 377,520 379.2,525.6 382,505 386.7,453.7 390,490 393,525 396,527 446,525 450,510 453.2,500.4 458,517 461,525 465,527 468,518 472.6,513.4 475,513 481.2,487.5 484,520 488.4,526 490,526 496,510 498.5,507.6" fill="none" stroke="#f4f8fa" stroke-width="1.15" stroke-linejoin="round"/>
<polyline points="115.6,503 117,507 121,516 125,526 174,526 176,520 179,480 183.6,452.3 187,480 190,515 191,525 193,515 194.5,511.5 197,516 203,516 204,515.5 206,526 218,526 223,520 226,526 255,526 257,519 258,527 260,505 263.8,492.5 266,505 268,518 272,510.5 273,530 276,532 294,532 297,509 298.5,525 300,520 306.6,492 310,520 311.6,525 314,517 316,526 342,527 347.3,520 350,527 363,526 366,517 374,517 375,509 377,520 379.2,525.6 382,505 386.7,453.7 390,490 393,525 396,527 446,525 450,510 453.2,500.4 458,517 461,525 465,527 468,518 472.6,513.4 475,513 481.2,487.5 484,520 488.4,526 490,526 496,510 498.5,507.6" fill="none" stroke="#f2b9bf" stroke-width="1.3" clip-path="url(#c1p0)"/>
<clipPath id="c1g"><rect x="488.7" y="300" width="9.8" height="300"/></clipPath>
<rect x="488.7" y="488.2" width="9.8" height="58.8" fill="#3a9a6a"/>
<polygon points="115.6,547 115.6,503 117,507 121,516 125,526 174,526 176,520 179,480 183.6,452.3 187,480 190,515 191,525 193,515 194.5,511.5 197,516 203,516 204,515.5 206,526 218,526 223,520 226,526 255,526 257,519 258,527 260,505 263.8,492.5 266,505 268,518 272,510.5 273,530 276,532 294,532 297,509 298.5,525 300,520 306.6,492 310,520 311.6,525 314,517 316,526 342,527 347.3,520 350,527 363,526 366,517 374,517 375,509 377,520 379.2,525.6 382,505 386.7,453.7 390,490 393,525 396,527 446,525 450,510 453.2,500.4 458,517 461,525 465,527 468,518 472.6,513.4 475,513 481.2,487.5 484,520 488.4,526 490,526 496,510 498.5,507.6 498.5,547" fill="#7dbb70" clip-path="url(#c1g)"/>
<line x1="109" y1="463" x2="499" y2="463" stroke="#ffffff" stroke-opacity="0.45" stroke-width="1.5" stroke-dasharray="4,3"/>
<text x="102.5" y="467.5" font-family="Liberation Sans" font-size="13" font-weight="bold" fill="#fff" text-anchor="end" >18m</text>
<line x1="109" y1="491.5" x2="499" y2="491.5" stroke="#ffffff" stroke-opacity="0.45" stroke-width="1.5" stroke-dasharray="4,3"/>
<text x="102.5" y="496.0" font-family="Liberation Sans" font-size="13" font-weight="bold" fill="#fff" text-anchor="end" >15m</text>
<line x1="109" y1="520.3" x2="499" y2="520.3" stroke="#ffffff" stroke-opacity="0.45" stroke-width="1.5" stroke-dasharray="4,3"/>
<text x="102.5" y="524.8" font-family="Liberation Sans" font-size="13" font-weight="bold" fill="#fff" text-anchor="end" >12m</text>
<line x1="115.6" y1="440" x2="115.6" y2="548" stroke="#fff" stroke-width="2"/>
<line x1="112.6" y1="547" x2="499.2" y2="547" stroke="#fff" stroke-width="2"/>
<line x1="115.6" y1="547" x2="115.6" y2="550" stroke="#fff" stroke-width="1.5"/>
<line x1="171.8" y1="547" x2="171.8" y2="550" stroke="#fff" stroke-width="1.5"/>
<line x1="226.7" y1="547" x2="226.7" y2="550" stroke="#fff" stroke-width="1.5"/>
<line x1="282.5" y1="547" x2="282.5" y2="550" stroke="#fff" stroke-width="1.5"/>
<line x1="337.5" y1="547" x2="337.5" y2="550" stroke="#fff" stroke-width="1.5"/>
<line x1="392.8" y1="547" x2="392.8" y2="550" stroke="#fff" stroke-width="1.5"/>
<line x1="448.2" y1="547" x2="448.2" y2="550" stroke="#fff" stroke-width="1.5"/>
<text x="118.5" y="563.2" font-family="Liberation Sans" font-size="13" font-weight="bold" fill="#fff" text-anchor="middle" >0km</text>
<text x="228" y="563.2" font-family="Liberation Sans" font-size="13" font-weight="bold" fill="#fff" text-anchor="middle" >5km</text>
<text x="338" y="563.2" font-family="Liberation Sans" font-size="13" font-weight="bold" fill="#fff" text-anchor="middle" >10km</text>
<text x="448.5" y="563.2" font-family="Liberation Sans" font-size="13" font-weight="bold" fill="#fff" text-anchor="middle" >15km</text>
<text x="117.5" y="544.3" font-family="Liberation Sans" font-size="11.8" font-weight="bold" font-style="italic" fill="#c8dce4" textLength="70" lengthAdjust="spacingAndGlyphs">ZWIFT<tspan fill="#8d9ca4">HUB</tspan></text>
<polyline points="214.1,384 214.1,418.3 377.7,418.3 377.7,425" fill="none" stroke="#fff" stroke-width="2"/>
<polyline points="389.2,384 389.2,392.6 493.5,392.6 493.5,463" fill="none" stroke="#fff" stroke-width="2"/>
<circle cx="377.7" cy="433.6" r="8.4" fill="#e5322d" stroke="#fff" stroke-width="2"/>
<circle cx="493.5" cy="471.7" r="8.4" fill="#4b9f2a" stroke="#fff" stroke-width="2"/>
<text x="493.5" y="475.65999999999997" font-family="Liberation Sans" font-size="11" font-weight="bold" fill="#fff" text-anchor="middle" >S</text>
<text x="213.5" y="359.4" font-family="Liberation Sans" font-size="15.1" font-weight="bold" fill="#fff" text-anchor="middle" textLength="102.5" lengthAdjust="spacingAndGlyphs" >Fuego Flat Rev.</text>
<g transform="translate(162.1,366.09999999999997)" fill="none" stroke="#fff" stroke-width="1.2"><circle cx="3.2" cy="8.6" r="2.6"/><circle cx="11.6" cy="8.6" r="2.6"/><path d="M3.2,8.6 L6.2,4.2 L9.8,4.6 L11.6,8.6 M6.2,4.2 L8.2,7.6 M6.5,3.6 l3.2,0" stroke-width="1.6"/><circle cx="9.6" cy="1.4" r="1.4" fill="#fff" stroke="none"/></g>
<text x="178.1" y="377.59999999999997" font-family="Liberation Sans" font-size="12.5" font-weight="normal" fill="#fff" text-anchor="start" textLength="32.37" lengthAdjust="spacingAndGlyphs" >7.1km</text>
<g transform="translate(216.46800000000002,367.09999999999997)"><path d="M0,10.5 L6,3.6 L8.3,6.3 L11.8,0 L20,10.5 Z" fill="#fff"/><path d="M8.3,6.3 L10.2,8.2 L9.2,10.6" fill="none" stroke="#3892d3" stroke-width="1.2"/></g>
<text x="238.46800000000002" y="377.59999999999997" font-family="Liberation Sans" font-size="12.5" font-weight="normal" fill="#fff" text-anchor="start" textLength="27.13" lengthAdjust="spacingAndGlyphs" >0.0%</text>
<text x="389.2" y="359.4" font-family="Liberation Sans" font-size="15.1" font-weight="bold" fill="#fff" text-anchor="middle" textLength="78.1" lengthAdjust="spacingAndGlyphs" >Fuego Flats</text>
<g transform="translate(365.5,366.09999999999997)" fill="none" stroke="#fff" stroke-width="1.2"><circle cx="3.2" cy="8.6" r="2.6"/><circle cx="11.6" cy="8.6" r="2.6"/><path d="M3.2,8.6 L6.2,4.2 L9.8,4.6 L11.6,8.6 M6.2,4.2 L8.2,7.6 M6.5,3.6 l3.2,0" stroke-width="1.6"/><circle cx="9.6" cy="1.4" r="1.4" fill="#fff" stroke="none"/></g>
<text x="381.5" y="377.59999999999997" font-family="Liberation Sans" font-size="12.5" font-weight="normal" fill="#fff" text-anchor="start" textLength="33.6" lengthAdjust="spacingAndGlyphs" >0.5km</text>
<rect x="581" y="482" width="444" height="248" fill="#3892d3"/>
<rect x="663.5" y="606.2" width="12" height="99.2" fill="#40709f"/>
<rect x="908" y="606.2" width="13.5" height="99.2" fill="#40709f"/>
<polygon points="633.6,705.4 633.6,683 636,686 639.8,679.8 645,683 647,685.3 652,682 655,683 656.3,673.3 660,660 662.8,656 665,645 669,632 673,622 675.7,613 678,620 681,628 683,628.8 688.7,655.4 693,670.5 698.7,673.3 702,669 707.4,669 712,662 716,657.5 720.3,665.4 725,665 731,656.8 733,660 737.6,674 740,676 745.5,684.1 748,676 757.7,669.7 763.4,669 769,678 775.6,683.4 780,677 782,682 789.3,682 795,680 800,679 804.3,686.3 808.6,677 814.4,673.3 821.6,671.2 827.3,678.4 830.9,681.2 834.5,680.5 838.1,689.9 841.7,693.9 845.3,690 850.3,672.6 853.9,664.7 858.2,672.6 861.1,661.8 867.6,660.4 873.3,658.2 877.6,665.4 880.5,656.8 886.2,662.6 891.3,669 897.7,669.7 900.6,673.3 903.5,670.5 907.8,656.8 915,628.8 920.7,613 922,618 926.5,638 933,656 938.7,668.3 943,682.7 945.2,681.2 948.8,683.4 952.4,677.7 955.2,684.1 959,682 968.2,669 970,671 973.9,669 977,673 986.1,684.1 992.6,679.8 1004.1,670.5 1011.3,674 1017,677 1017,705.4" fill="#b3cdd8"/>
<clipPath id="c2p0"><rect x="663.5" y="300" width="12.0" height="500"/></clipPath>
<polygon points="633.6,705.4 633.6,683 636,686 639.8,679.8 645,683 647,685.3 652,682 655,683 656.3,673.3 660,660 662.8,656 665,645 669,632 673,622 675.7,613 678,620 681,628 683,628.8 688.7,655.4 693,670.5 698.7,673.3 702,669 707.4,669 712,662 716,657.5 720.3,665.4 725,665 731,656.8 733,660 737.6,674 740,676 745.5,684.1 748,676 757.7,669.7 763.4,669 769,678 775.6,683.4 780,677 782,682 789.3,682 795,680 800,679 804.3,686.3 808.6,677 814.4,673.3 821.6,671.2 827.3,678.4 830.9,681.2 834.5,680.5 838.1,689.9 841.7,693.9 845.3,690 850.3,672.6 853.9,664.7 858.2,672.6 861.1,661.8 867.6,660.4 873.3,658.2 877.6,665.4 880.5,656.8 886.2,662.6 891.3,669 897.7,669.7 900.6,673.3 903.5,670.5 907.8,656.8 915,628.8 920.7,613 922,618 926.5,638 933,656 938.7,668.3 943,682.7 945.2,681.2 948.8,683.4 952.4,677.7 955.2,684.1 959,682 968.2,669 970,671 973.9,669 977,673 986.1,684.1 992.6,679.8 1004.1,670.5 1011.3,674 1017,677 1017,705.4" fill="#c3989f" clip-path="url(#c2p0)"/>
<clipPath id="c2p1"><rect x="908" y="300" width="13.5" height="500"/></clipPath>
<polygon points="633.6,705.4 633.6,683 636,686 639.8,679.8 645,683 647,685.3 652,682 655,683 656.3,673.3 660,660 662.8,656 665,645 669,632 673,622 675.7,613 678,620 681,628 683,628.8 688.7,655.4 693,670.5 698.7,673.3 702,669 707.4,669 712,662 716,657.5 720.3,665.4 725,665 731,656.8 733,660 737.6,674 740,676 745.5,684.1 748,676 757.7,669.7 763.4,669 769,678 775.6,683.4 780,677 782,682 789.3,682 795,680 800,679 804.3,686.3 808.6,677 814.4,673.3 821.6,671.2 827.3,678.4 830.9,681.2 834.5,680.5 838.1,689.9 841.7,693.9 845.3,690 850.3,672.6 853.9,664.7 858.2,672.6 861.1,661.8 867.6,660.4 873.3,658.2 877.6,665.4 880.5,656.8 886.2,662.6 891.3,669 897.7,669.7 900.6,673.3 903.5,670.5 907.8,656.8 915,628.8 920.7,613 922,618 926.5,638 933,656 938.7,668.3 943,682.7 945.2,681.2 948.8,683.4 952.4,677.7 955.2,684.1 959,682 968.2,669 970,671 973.9,669 977,673 986.1,684.1 992.6,679.8 1004.1,670.5 1011.3,674 1017,677 1017,705.4" fill="#c3989f" clip-path="url(#c2p1)"/>
<polyline points="633.6,683 636,686 639.8,679.8 645,683 647,685.3 652,682 655,683 656.3,673.3 660,660 662.8,656 665,645 669,632 673,622 675.7,613 678,620 681,628 683,628.8 688.7,655.4 693,670.5 698.7,673.3 702,669 707.4,669 712,662 716,657.5 720.3,665.4 725,665 731,656.8 733,660 737.6,674 740,676 745.5,684.1 748,676 757.7,669.7 763.4,669 769,678 775.6,683.4 780,677 782,682 789.3,682 795,680 800,679 804.3,686.3 808.6,677 814.4,673.3 821.6,671.2 827.3,678.4 830.9,681.2 834.5,680.5 838.1,689.9 841.7,693.9 845.3,690 850.3,672.6 853.9,664.7 858.2,672.6 861.1,661.8 867.6,660.4 873.3,658.2 877.6,665.4 880.5,656.8 886.2,662.6 891.3,669 897.7,669.7 900.6,673.3 903.5,670.5 907.8,656.8 915,628.8 920.7,613 922,618 926.5,638 933,656 938.7,668.3 943,682.7 945.2,681.2 948.8,683.4 952.4,677.7 955.2,684.1 959,682 968.2,669 970,671 973.9,669 977,673 986.1,684.1 992.6,679.8 1004.1,670.5 1011.3,674 1017,677" fill="none" stroke="#f4f8fa" stroke-width="1.15" stroke-linejoin="round"/>
<polyline points="633.6,683 636,686 639.8,679.8 645,683 647,685.3 652,682 655,683 656.3,673.3 660,660 662.8,656 665,645 669,632 673,622 675.7,613 678,620 681,628 683,628.8 688.7,655.4 693,670.5 698.7,673.3 702,669 707.4,669 712,662 716,657.5 720.3,665.4 725,665 731,656.8 733,660 737.6,674 740,676 745.5,684.1 748,676 757.7,669.7 763.4,669 769,678 775.6,683.4 780,677 782,682 789.3,682 795,680 800,679 804.3,686.3 808.6,677 814.4,673.3 821.6,671.2 827.3,678.4 830.9,681.2 834.5,680.5 838.1,689.9 841.7,693.9 845.3,690 850.3,672.6 853.9,664.7 858.2,672.6 861.1,661.8 867.6,660.4 873.3,658.2 877.6,665.4 880.5,656.8 886.2,662.6 891.3,669 897.7,669.7 900.6,673.3 903.5,670.5 907.8,656.8 915,628.8 920.7,613 922,618 926.5,638 933,656 938.7,668.3 943,682.7 945.2,681.2 948.8,683.4 952.4,677.7 955.2,684.1 959,682 968.2,669 970,671 973.9,669 977,673 986.1,684.1 992.6,679.8 1004.1,670.5 1011.3,674 1017,677" fill="none" stroke="#f2b9bf" stroke-width="1.3" clip-path="url(#c2p0)"/>
<polyline points="633.6,683 636,686 639.8,679.8 645,683 647,685.3 652,682 655,683 656.3,673.3 660,660 662.8,656 665,645 669,632 673,622 675.7,613 678,620 681,628 683,628.8 688.7,655.4 693,670.5 698.7,673.3 702,669 707.4,669 712,662 716,657.5 720.3,665.4 725,665 731,656.8 733,660 737.6,674 740,676 745.5,684.1 748,676 757.7,669.7 763.4,669 769,678 775.6,683.4 780,677 782,682 789.3,682 795,680 800,679 804.3,686.3 808.6,677 814.4,673.3 821.6,671.2 827.3,678.4 830.9,681.2 834.5,680.5 838.1,689.9 841.7,693.9 845.3,690 850.3,672.6 853.9,664.7 858.2,672.6 861.1,661.8 867.6,660.4 873.3,658.2 877.6,665.4 880.5,656.8 886.2,662.6 891.3,669 897.7,669.7 900.6,673.3 903.5,670.5 907.8,656.8 915,628.8 920.7,613 922,618 926.5,638 933,656 938.7,668.3 943,682.7 945.2,681.2 948.8,683.4 952.4,677.7 955.2,684.1 959,682 968.2,669 970,671 973.9,669 977,673 986.1,684.1 992.6,679.8 1004.1,670.5 1011.3,674 1017,677" fill="none" stroke="#f2b9bf" stroke-width="1.3" clip-path="url(#c2p1)"/>
<line x1="782.4" y1="651.8" x2="782.4" y2="705" stroke="#62b04a" stroke-width="1.2"/>
<line x1="948.8" y1="651.8" x2="948.8" y2="705" stroke="#62b04a" stroke-width="1.2"/>
<line x1="626" y1="633.5" x2="1017" y2="633.5" stroke="#ffffff" stroke-opacity="0.45" stroke-width="1.5" stroke-dasharray="4,3"/>
<text x="620.5" y="638.0" font-family="Liberation Sans" font-size="13" font-weight="bold" fill="#fff" text-anchor="end" >100m</text>
<line x1="626" y1="665.7" x2="1017" y2="665.7" stroke="#ffffff" stroke-opacity="0.45" stroke-width="1.5" stroke-dasharray="4,3"/>
<text x="620.5" y="670.2" font-family="Liberation Sans" font-size="13" font-weight="bold" fill="#fff" text-anchor="end" >50m</text>
<line x1="626" y1="697.8" x2="1017" y2="697.8" stroke="#ffffff" stroke-opacity="0.45" stroke-width="1.5" stroke-dasharray="4,3"/>
<text x="620.5" y="702.3" font-family="Liberation Sans" font-size="13" font-weight="bold" fill="#fff" text-anchor="end" >0m</text>
<line x1="633.6" y1="599.3" x2="633.6" y2="706.4" stroke="#fff" stroke-width="2"/>
<line x1="630.6" y1="705.4" x2="1017.3" y2="705.4" stroke="#fff" stroke-width="2"/>
<line x1="633.6" y1="705.4" x2="633.6" y2="708.4" stroke="#fff" stroke-width="1.5"/>
<line x1="689.4" y1="705.4" x2="689.4" y2="708.4" stroke="#fff" stroke-width="1.5"/>
<line x1="745.5" y1="705.4" x2="745.5" y2="708.4" stroke="#fff" stroke-width="1.5"/>
<line x1="801.5" y1="705.4" x2="801.5" y2="708.4" stroke="#fff" stroke-width="1.5"/>
<line x1="857.5" y1="705.4" x2="857.5" y2="708.4" stroke="#fff" stroke-width="1.5"/>
<line x1="914" y1="705.4" x2="914" y2="708.4" stroke="#fff" stroke-width="1.5"/>
<line x1="970.3" y1="705.4" x2="970.3" y2="708.4" stroke="#fff" stroke-width="1.5"/>
<text x="636.5" y="721.7" font-family="Liberation Sans" font-size="13" font-weight="bold" fill="#fff" text-anchor="middle" >0km</text>
<text x="745.5" y="721.7" font-family="Liberation Sans" font-size="13" font-weight="bold" fill="#fff" text-anchor="middle" >10km</text>
<text x="857.5" y="721.7" font-family="Liberation Sans" font-size="13" font-weight="bold" fill="#fff" text-anchor="middle" >20km</text>
<text x="970.3" y="721.7" font-family="Liberation Sans" font-size="13" font-weight="bold" fill="#fff" text-anchor="middle" >30km</text>
<text x="635.5" y="702.8" font-family="Liberation Sans" font-size="11.8" font-weight="bold" font-style="italic" fill="#c8dce4" textLength="70" lengthAdjust="spacingAndGlyphs">ZWIFT<tspan fill="#8d9ca4">HUB</tspan></text>
<polyline points="709.1,533.2 709.1,539.7 669.3,539.7 669.3,583.5" fill="none" stroke="#fff" stroke-width="2"/>
<polyline points="875.8,533.2 875.8,541.1 914.6,541.1 914.6,583" fill="none" stroke="#fff" stroke-width="2"/>
<polyline points="770.6,595.7 770.6,602 782.2,602 782.2,625" fill="none" stroke="#fff" stroke-width="2"/>
<polyline points="973.2,595.7 973.2,602.2 948.8,602.2 948.8,625" fill="none" stroke="#fff" stroke-width="2"/>
<circle cx="669.3" cy="591.8" r="8.4" fill="#e5322d" stroke="#fff" stroke-width="2"/>
<circle cx="914.6" cy="591.8" r="8.4" fill="#e5322d" stroke="#fff" stroke-width="2"/>
<text x="914.6" y="596.12" font-family="Liberation Sans" font-size="12" font-weight="bold" fill="#fff" text-anchor="middle" >4</text>
<circle cx="782.4" cy="633.5" r="8.4" fill="#4b9f2a" stroke="#fff" stroke-width="2"/>
<text x="782.4" y="637.46" font-family="Liberation Sans" font-size="11" font-weight="bold" fill="#fff" text-anchor="middle" >S</text>
<circle cx="948.8" cy="633.5" r="8.4" fill="#4b9f2a" stroke="#fff" stroke-width="2"/>
<text x="948.8" y="637.46" font-family="Liberation Sans" font-size="11" font-weight="bold" fill="#fff" text-anchor="middle" >S</text>
<text x="708.65" y="508.6" font-family="Liberation Sans" font-size="15.1" font-weight="bold" fill="#fff" text-anchor="middle" textLength="133.0" lengthAdjust="spacingAndGlyphs" >New York KOM Rev.</text>
<g transform="translate(656.8,515.3000000000001)" fill="none" stroke="#fff" stroke-width="1.2"><circle cx="3.2" cy="8.6" r="2.6"/><circle cx="11.6" cy="8.6" r="2.6"/><path d="M3.2,8.6 L6.2,4.2 L9.8,4.6 L11.6,8.6 M6.2,4.2 L8.2,7.6 M6.5,3.6 l3.2,0" stroke-width="1.6"/><circle cx="9.6" cy="1.4" r="1.4" fill="#fff" stroke="none"/></g>
<text x="672.8" y="526.8000000000001" font-family="Liberation Sans" font-size="12.5" font-weight="normal" fill="#fff" text-anchor="start" textLength="32.37" lengthAdjust="spacingAndGlyphs" >1.1km</text>
<g transform="translate(711.168,516.3000000000001)"><path d="M0,10.5 L6,3.6 L8.3,6.3 L11.8,0 L20,10.5 Z" fill="#fff"/><path d="M8.3,6.3 L10.2,8.2 L9.2,10.6" fill="none" stroke="#3892d3" stroke-width="1.2"/></g>
<text x="733.168" y="526.8000000000001" font-family="Liberation Sans" font-size="12.5" font-weight="normal" fill="#fff" text-anchor="start" textLength="27.13" lengthAdjust="spacingAndGlyphs" >5.7%</text>
<text x="875.45" y="508.6" font-family="Liberation Sans" font-size="15.1" font-weight="bold" fill="#fff" text-anchor="middle" textLength="100.2" lengthAdjust="spacingAndGlyphs" >New York KOM</text>
<g transform="translate(823.7,515.3000000000001)" fill="none" stroke="#fff" stroke-width="1.2"><circle cx="3.2" cy="8.6" r="2.6"/><circle cx="11.6" cy="8.6" r="2.6"/><path d="M3.2,8.6 L6.2,4.2 L9.8,4.6 L11.6,8.6 M6.2,4.2 L8.2,7.6 M6.5,3.6 l3.2,0" stroke-width="1.6"/><circle cx="9.6" cy="1.4" r="1.4" fill="#fff" stroke="none"/></g>
<text x="839.7" y="526.8000000000001" font-family="Liberation Sans" font-size="12.5" font-weight="normal" fill="#fff" text-anchor="start" textLength="32.37" lengthAdjust="spacingAndGlyphs" >1.4km</text>
<g transform="translate(878.0680000000001,516.3000000000001)"><path d="M0,10.5 L6,3.6 L8.3,6.3 L11.8,0 L20,10.5 Z" fill="#fff"/><path d="M8.3,6.3 L10.2,8.2 L9.2,10.6" fill="none" stroke="#3892d3" stroke-width="1.2"/></g>
<text x="900.0680000000001" y="526.8000000000001" font-family="Liberation Sans" font-size="12.5" font-weight="normal" fill="#fff" text-anchor="start" textLength="27.13" lengthAdjust="spacingAndGlyphs" >6.1%</text>
<text x="770.25" y="571.8" font-family="Liberation Sans" font-size="15.1" font-weight="bold" fill="#fff" text-anchor="middle" textLength="96.4" lengthAdjust="spacingAndGlyphs" >NY Sprint Rev.</text>
<g transform="translate(747.0,578.5)" fill="none" stroke="#fff" stroke-width="1.2"><circle cx="3.2" cy="8.6" r="2.6"/><circle cx="11.6" cy="8.6" r="2.6"/><path d="M3.2,8.6 L6.2,4.2 L9.8,4.6 L11.6,8.6 M6.2,4.2 L8.2,7.6 M6.5,3.6 l3.2,0" stroke-width="1.6"/><circle cx="9.6" cy="1.4" r="1.4" fill="#fff" stroke="none"/></g>
<text x="763.0" y="590.0" font-family="Liberation Sans" font-size="12.5" font-weight="normal" fill="#fff" text-anchor="start" textLength="33.3" lengthAdjust="spacingAndGlyphs" >0.2km</text>
<text x="973.2" y="571.8" font-family="Liberation Sans" font-size="15.1" font-weight="bold" fill="#fff" text-anchor="middle" textLength="63.7" lengthAdjust="spacingAndGlyphs" >NY Sprint</text>
<g transform="translate(949.5,578.5)" fill="none" stroke="#fff" stroke-width="1.2"><circle cx="3.2" cy="8.6" r="2.6"/><circle cx="11.6" cy="8.6" r="2.6"/><path d="M3.2,8.6 L6.2,4.2 L9.8,4.6 L11.6,8.6 M6.2,4.2 L8.2,7.6 M6.5,3.6 l3.2,0" stroke-width="1.6"/><circle cx="9.6" cy="1.4" r="1.4" fill="#fff" stroke="none"/></g>
<text x="965.5" y="590.0" font-family="Liberation Sans" font-size="12.5" font-weight="normal" fill="#fff" text-anchor="start" textLength="33.6" lengthAdjust="spacingAndGlyphs" >0.2km</text>
<rect x="1100" y="334" width="443" height="248" fill="#3892d3"/>
<rect x="1348.8" y="458" width="186.4" height="100.2" fill="#40709f"/>
<polygon points="1152.5,558.2 1152.5,546 1160,547 1167,548.5 1175,547 1190,545.5 1205,546.5 1215,547.5 1238,547 1243,543 1250,541 1265,539 1275,539 1277,538.5 1283,540.5 1290,541 1310,542 1318,544 1330,546 1348.8,546.5 1365.3,537.7 1378.2,532.7 1384,527.7 1393.3,526.2 1402.7,520.5 1421.4,513.3 1432.9,508.3 1458.7,496.8 1484.6,486.7 1506.2,478.1 1520.5,473 1524.1,469.5 1535,465.6 1535,558.2" fill="#b3cdd8"/>
<clipPath id="c3p0"><rect x="1348.8" y="300" width="186.70000000000005" height="500"/></clipPath>
<polygon points="1152.5,558.2 1152.5,546 1160,547 1167,548.5 1175,547 1190,545.5 1205,546.5 1215,547.5 1238,547 1243,543 1250,541 1265,539 1275,539 1277,538.5 1283,540.5 1290,541 1310,542 1318,544 1330,546 1348.8,546.5 1365.3,537.7 1378.2,532.7 1384,527.7 1393.3,526.2 1402.7,520.5 1421.4,513.3 1432.9,508.3 1458.7,496.8 1484.6,486.7 1506.2,478.1 1520.5,473 1524.1,469.5 1535,465.6 1535,558.2" fill="#c3989f" clip-path="url(#c3p0)"/>
<polyline points="1152.5,546 1160,547 1167,548.5 1175,547 1190,545.5 1205,546.5 1215,547.5 1238,547 1243,543 1250,541 1265,539 1275,539 1277,538.5 1283,540.5 1290,541 1310,542 1318,544 1330,546 1348.8,546.5 1365.3,537.7 1378.2,532.7 1384,527.7 1393.3,526.2 1402.7,520.5 1421.4,513.3 1432.9,508.3 1458.7,496.8 1484.6,486.7 1506.2,478.1 1520.5,473 1524.1,469.5 1535,465.6" fill="none" stroke="#f4f8fa" stroke-width="1.15" stroke-linejoin="round"/>
<polyline points="1152.5,546 1160,547 1167,548.5 1175,547 1190,545.5 1205,546.5 1215,547.5 1238,547 1243,543 1250,541 1265,539 1275,539 1277,538.5 1283,540.5 1290,541 1310,542 1318,544 1330,546 1348.8,546.5 1365.3,537.7 1378.2,532.7 1384,527.7 1393.3,526.2 1402.7,520.5 1421.4,513.3 1432.9,508.3 1458.7,496.8 1484.6,486.7 1506.2,478.1 1520.5,473 1524.1,469.5 1535,465.6" fill="none" stroke="#f2b9bf" stroke-width="1.3" clip-path="url(#c3p0)"/>
<line x1="1145.3" y1="469.2" x2="1535" y2="469.2" stroke="#ffffff" stroke-opacity="0.45" stroke-width="1.5" stroke-dasharray="4,3"/>
<text x="1139" y="473.7" font-family="Liberation Sans" font-size="13" font-weight="bold" fill="#fff" text-anchor="end" >1000m</text>
<line x1="1145.3" y1="508" x2="1535" y2="508" stroke="#ffffff" stroke-opacity="0.45" stroke-width="1.5" stroke-dasharray="4,3"/>
<text x="1139" y="512.5" font-family="Liberation Sans" font-size="13" font-weight="bold" fill="#fff" text-anchor="end" >500m</text>
<line x1="1145.3" y1="547.1" x2="1535" y2="547.1" stroke="#ffffff" stroke-opacity="0.45" stroke-width="1.5" stroke-dasharray="4,3"/>
<text x="1139" y="551.6" font-family="Liberation Sans" font-size="13" font-weight="bold" fill="#fff" text-anchor="end" >0m</text>
<line x1="1152.5" y1="451.5" x2="1152.5" y2="559.2" stroke="#fff" stroke-width="2"/>
<line x1="1149.5" y1="558.2" x2="1535.5" y2="558.2" stroke="#fff" stroke-width="2"/>
<line x1="1152.5" y1="558.2" x2="1152.5" y2="561.2" stroke="#fff" stroke-width="1.5"/>
<line x1="1228.7" y1="558.2" x2="1228.7" y2="561.2" stroke="#fff" stroke-width="1.5"/>
<line x1="1304.9" y1="558.2" x2="1304.9" y2="561.2" stroke="#fff" stroke-width="1.5"/>
<line x1="1381.4" y1="558.2" x2="1381.4" y2="561.2" stroke="#fff" stroke-width="1.5"/>
<line x1="1457.6" y1="558.2" x2="1457.6" y2="561.2" stroke="#fff" stroke-width="1.5"/>
<line x1="1534.2" y1="558.2" x2="1534.2" y2="561.2" stroke="#fff" stroke-width="1.5"/>
<text x="1155.5" y="573.9" font-family="Liberation Sans" font-size="13" font-weight="bold" fill="#fff" text-anchor="middle" >0km</text>
<text x="1304.9" y="573.9" font-family="Liberation Sans" font-size="13" font-weight="bold" fill="#fff" text-anchor="middle" >10km</text>
<text x="1457.3" y="573.9" font-family="Liberation Sans" font-size="13" font-weight="bold" fill="#fff" text-anchor="middle" >20km</text>
<text x="1154" y="555.7" font-family="Liberation Sans" font-size="11.8" font-weight="bold" font-style="italic" fill="#c8dce4" textLength="70" lengthAdjust="spacingAndGlyphs">ZWIFT<tspan fill="#8d9ca4">HUB</tspan></text>
<polyline points="1340.7,395.2 1340.7,401.7 1441.8,401.7 1441.8,436" fill="none" stroke="#fff" stroke-width="2"/>
<circle cx="1441.8" cy="444.3" r="8.4" fill="#e5322d" stroke="#fff" stroke-width="2"/>
<text x="1441.8" y="447.72" font-family="Liberation Sans" font-size="9.5" font-weight="bold" fill="#fff" text-anchor="middle" >HC</text>
<text x="1341.0500000000002" y="370.9" font-family="Liberation Sans" font-size="15.1" font-weight="bold" fill="#fff" text-anchor="middle" textLength="88.2" lengthAdjust="spacingAndGlyphs" >Alpe du Zwift</text>
<g transform="translate(1285.8,377.59999999999997)" fill="none" stroke="#fff" stroke-width="1.2"><circle cx="3.2" cy="8.6" r="2.6"/><circle cx="11.6" cy="8.6" r="2.6"/><path d="M3.2,8.6 L6.2,4.2 L9.8,4.6 L11.6,8.6 M6.2,4.2 L8.2,7.6 M6.5,3.6 l3.2,0" stroke-width="1.6"/><circle cx="9.6" cy="1.4" r="1.4" fill="#fff" stroke="none"/></g>
<text x="1301.8" y="389.09999999999997" font-family="Liberation Sans" font-size="12.5" font-weight="normal" fill="#fff" text-anchor="start" textLength="39.05" lengthAdjust="spacingAndGlyphs" >12.0km</text>
<g transform="translate(1346.8532374100719,378.59999999999997)"><path d="M0,10.5 L6,3.6 L8.3,6.3 L11.8,0 L20,10.5 Z" fill="#fff"/><path d="M8.3,6.3 L10.2,8.2 L9.2,10.6" fill="none" stroke="#3892d3" stroke-width="1.2"/></g>
<text x="1368.8532374100719" y="389.09999999999997" font-family="Liberation Sans" font-size="12.5" font-weight="normal" fill="#fff" text-anchor="start" textLength="27.15" lengthAdjust="spacingAndGlyphs" >8.5%</text>
<g transform="translate(265.6,634.3) scale(0.8921,1)"><text x="0" y="0" font-family="Liberation Sans" font-size="29" font-weight="normal" fill="#bca56e" text-anchor="middle" textLength="91.13" lengthAdjust="spacing" stroke="#bca56e" stroke-width="0.4">16,6 K</text></g>
<g transform="translate(265.0,668.7) scale(0.8352,1)"><text x="0" y="0" font-family="Liberation Sans" font-size="29" font-weight="normal" fill="#bca56e" text-anchor="middle" textLength="432.83" lengthAdjust="spacing" stroke="#bca56e" stroke-width="0.4">31 MTS DESNIVEL POSITIVO</text></g>
<g transform="translate(262.75,737.0) scale(0.8331,1)"><text x="0" y="0" font-family="Liberation Sans" font-size="29" font-weight="normal" fill="#bca56e" text-anchor="middle" textLength="439.32" lengthAdjust="spacing" stroke="#bca56e" stroke-width="0.4">HORA: ENTRE LAS 7 AM Y 21</text></g>
<g transform="translate(265.15,771.0) scale(0.8257,1)"><text x="0" y="0" font-family="Liberation Sans" font-size="29" font-weight="normal" fill="#bca56e" text-anchor="middle" textLength="399.42" lengthAdjust="spacing" stroke="#bca56e" stroke-width="0.4">HRS (EL EQUIPO HACE EL</text></g>
<g transform="translate(264.75,804.7) scale(0.8444,1)"><text x="0" y="0" font-family="Liberation Sans" font-size="29" font-weight="normal" fill="#bca56e" text-anchor="middle" textLength="139.74" lengthAdjust="spacing" stroke="#bca56e" stroke-width="0.4">MEETUP)</text></g>
<g transform="translate(809.25,778.0) scale(0.8886,1)"><text x="0" y="0" font-family="Liberation Sans" font-size="29" font-weight="normal" fill="#bca56e" text-anchor="middle" textLength="91.15" lengthAdjust="spacing" stroke="#bca56e" stroke-width="0.4">34,5 K</text></g>
<g transform="translate(809.05,811.8) scale(0.8371,1)"><text x="0" y="0" font-family="Liberation Sans" font-size="29" font-weight="normal" fill="#bca56e" text-anchor="middle" textLength="503.40" lengthAdjust="spacing" stroke="#bca56e" stroke-width="0.4">544 MTS DE DESNIVEL POSITIVO</text></g>
<g transform="translate(808.9,879.8) scale(0.8584,1)"><text x="0" y="0" font-family="Liberation Sans" font-size="29" font-weight="normal" fill="#bca56e" text-anchor="middle" textLength="224.49" lengthAdjust="spacing" stroke="#bca56e" stroke-width="0.4">HORA: 9:30 AM</text></g>
<g transform="translate(1337.85,634.5) scale(0.8957,1)"><text x="0" y="0" font-family="Liberation Sans" font-size="29" font-weight="normal" fill="#bca56e" text-anchor="middle" textLength="91.10" lengthAdjust="spacing" stroke="#bca56e" stroke-width="0.4">28,2 K</text></g>
<g transform="translate(1338.25,668.0) scale(0.8405,1)"><text x="0" y="0" font-family="Liberation Sans" font-size="29" font-weight="normal" fill="#bca56e" text-anchor="middle" textLength="518.74" lengthAdjust="spacing" stroke="#bca56e" stroke-width="0.4">1164 MTS DE DESNIVEL POSITIVO</text></g>
<g transform="translate(1337.45,735.7) scale(0.8589,1)"><text x="0" y="0" font-family="Liberation Sans" font-size="29" font-weight="normal" fill="#bca56e" text-anchor="middle" textLength="224.47" lengthAdjust="spacing" stroke="#bca56e" stroke-width="0.4">HORA: 9:30 AM</text></g>
<g transform="translate(63.4,1017) scale(0.5076,1)"><text x="0" y="0" font-family="Liberation Sans" font-size="37.5" font-weight="bold" fill="#bca56e" text-anchor="start" textLength="259.06" lengthAdjust="spacing" stroke="#bca56e" stroke-width="0.3">ORGANIZAN:</text></g>
<g transform="translate(967.8,1021.6) scale(0.5417,1)"><text x="0" y="0" font-family="Liberation Sans" font-size="36.8" font-weight="bold" fill="#bca56e" text-anchor="start" textLength="467.97" lengthAdjust="spacing" stroke="#bca56e" stroke-width="0.3">TRANSMISION EN VIVO:</text></g>
<clipPath id="gpclip"><rect x="241" y="950" width="287" height="112"/></clipPath>
<rect x="241" y="950" width="287" height="112" fill="#221a0b"/>
<g clip-path="url(#gpclip)">
<rect x="340" y="950" width="80" height="28" fill="#3a2d12" opacity="0.8" filter="url(#blur3)"/>
<g stroke="#3b2f14" stroke-width="3.5" fill="none" opacity="0.9"><path d="M241,962 h25 l12,-12 M290,950 v14 l10,10 h30 M241,1040 h20 l15,15 v10 M300,1062 v-12 l12,-12 h30 M360,1062 v-20 l14,-14 h20 l10,-10 v-18 M400,950 v20 l-10,10 M430,1062 v-25 l-12,-12 v-30 l-10,-10 M520,950 v30 l-15,15 v40 l10,10 v20 M470,1062 l20,-20 h20 M241,1000 h10 l8,8 v20 M380,1000 l15,15 h10"/></g><g fill="none" stroke="#3b2f14" stroke-width="2"><circle cx="330" cy="974" r="3"/><circle cx="276" cy="1055" r="3"/><circle cx="395" cy="980" r="3"/><circle cx="505" cy="995" r="3"/><circle cx="405" cy="1028" r="3"/></g>
</g>
<g fill="none" stroke="#f6f6f6" stroke-width="2.7" stroke-linejoin="miter" stroke-linecap="butt"><path d="M265,1017 H253.6 Q252.6,1017 252.6,1018.5 V1029 Q252.6,1030.6 254,1030.6 H263.4 V1024.3 H258"/><path d="M270.6,1032 V1017 H278.3 V1024.3 H270.6"/><path d="M295.1,1032 V1017 H312 V1032 M303.5,1017 V1032"/><path d="M316.5,1032 V1017 H329 V1032 M316.5,1024.8 H329"/><path d="M331.7,1017 H346.2 M339,1017 V1032"/><path d="M349.8,1032 V1017 H361 V1024 H349.8 M355.5,1024 Q361,1025 361,1029 V1032"/><path d="M365.4,1015.7 V1032"/><path d="M368.2,1015.7 Q368.4,1021 374.2,1023.8 Q380,1026.5 380.2,1032 M380.2,1015.7 Q380,1021 374.2,1023.8 Q368.4,1026.5 368.2,1032"/></g>
<g stroke="#1c150a" stroke-width="1.2"><path d="M252,1022 h3 M295,1025 h2.5 M303,1020 h2 M349,1027 h2.5 M316,1028 h2"/></g>
<text x="251" y="1041" font-family="Liberation Mono" font-size="6.8" font-weight="bold" fill="#6ef23a" text-anchor="start" textLength="129.5" lengthAdjust="spacingAndGlyphs" >&gt;THE CYCLING VIRTUAL CHALLENGE&lt;</text>
<g transform="translate(252,965)"><g fill="none" stroke="#fff" stroke-width="1.4"><circle cx="11.8" cy="9" r="1.9"/><circle cx="23.6" cy="11.3" r="1.9"/><circle cx="30.1" cy="14.8" r="1.9"/><circle cx="19.2" cy="17.8" r="1.9"/><circle cx="6.5" cy="24.8" r="1.9"/><circle cx="18.75" cy="25.2" r="1.9"/><circle cx="25.2" cy="28.5" r="1.9"/><circle cx="16" cy="30.3" r="1.9"/><circle cx="25.5" cy="35.9" r="1.9"/><circle cx="19" cy="39.4" r="1.9"/><path d="M13.9,9 H20.8 L23.6,6.25 H39.4 Q44,6.5 51,13.5 L56,20" stroke-width="1.8"/><path d="M25.5,11.3 H32 Q40,12 47,16" stroke-width="1.6"/><path d="M21.1,17.8 H26 L28.5,20 H38"/><path d="M8.4,24.8 H11 L14,22 H40"/><path d="M20.6,25.2 H37 M27.1,28.5 H36.5 M17.9,30.3 H21 L24,33 H36.5 M27.4,35.9 H36.5 M20.9,39.4 H36.5 M36.5,23 V40" stroke-width="1.6"/><path d="M40.7,45 H44.4 L48,40" stroke-width="1.8"/></g><g fill="#fff"><polygon points="50,13 59,24 51,21"/><polygon points="31.9,12.5 46.3,15.3 57.9,23.1 54.6,25 40.3,24.1 35,20"/><polygon points="40.3,26.4 54.6,29.6 52.3,33.3 53.2,38 48.1,39.8 44.4,42 41,37 38,27"/></g></g>
<g transform="translate(379,965) scale(-1,1)"><g fill="none" stroke="#fff" stroke-width="1.4"><circle cx="11.8" cy="9" r="1.9"/><circle cx="23.6" cy="11.3" r="1.9"/><circle cx="30.1" cy="14.8" r="1.9"/><circle cx="19.2" cy="17.8" r="1.9"/><circle cx="6.5" cy="24.8" r="1.9"/><circle cx="18.75" cy="25.2" r="1.9"/><circle cx="25.2" cy="28.5" r="1.9"/><circle cx="16" cy="30.3" r="1.9"/><circle cx="25.5" cy="35.9" r="1.9"/><circle cx="19" cy="39.4" r="1.9"/><path d="M13.9,9 H20.8 L23.6,6.25 H39.4 Q44,6.5 51,13.5 L56,20" stroke-width="1.8"/><path d="M25.5,11.3 H32 Q40,12 47,16" stroke-width="1.6"/><path d="M21.1,17.8 H26 L28.5,20 H38"/><path d="M8.4,24.8 H11 L14,22 H40"/><path d="M20.6,25.2 H37 M27.1,28.5 H36.5 M17.9,30.3 H21 L24,33 H36.5 M27.4,35.9 H36.5 M20.9,39.4 H36.5 M36.5,23 V40" stroke-width="1.6"/><path d="M40.7,45 H44.4 L48,40" stroke-width="1.8"/></g><g fill="#fff"><polygon points="50,13 59,24 51,21"/><polygon points="31.9,12.5 46.3,15.3 57.9,23.1 54.6,25 40.3,24.1 35,20"/><polygon points="40.3,26.4 54.6,29.6 52.3,33.3 53.2,38 48.1,39.8 44.4,42 41,37 38,27"/></g></g>
<g fill="none" stroke="#fff" stroke-width="3.1" stroke-linejoin="miter" stroke-miterlimit="3" stroke-linecap="round"><polyline points="426.4,976 439.4,1010.3 445.2,970.1 467.3,1007.1 484.8,971.4 493.2,1009"/><polyline points="432.3,985.1 454.3,1007.1 464.7,965 478.9,1008.4 508.1,976 497.1,1014.9 443.3,1016.8"/></g>
<g fill="#c9b07a"><circle cx="423.8" cy="970.1" r="2.6"/><circle cx="443.9" cy="964" r="2.6"/><circle cx="465.6" cy="958.2" r="2.6"/><circle cx="485.7" cy="964.3" r="2.6"/><circle cx="509.1" cy="971.4" r="2.6"/></g>
<g transform="translate(467.75,1040.6) scale(0.9,1)"><text x="0" y="0" font-family="Liberation Sans" font-size="18.6" font-weight="bold" fill="#fff" text-anchor="middle" textLength="74.11" lengthAdjust="spacing" >REINAS</text></g>
<g transform="translate(467.75,1052.8) scale(0.8,1)"><text x="0" y="0" font-family="Liberation Sans" font-size="14.5" font-weight="bold" fill="#fff" text-anchor="middle" textLength="83.38" lengthAdjust="spacing" >DEL PEDAL</text></g>
<text x="1237" y="1023.5" textLength="115" lengthAdjust="spacingAndGlyphs" stroke-linejoin="round" font-family="Liberation Sans" font-weight="bold" font-size="71"><tspan fill="#d8d8d8" stroke="#d8d8d8" stroke-width="5.5">ride</tspan></text>
<text x="1357.5" y="1023.5" textLength="130.5" lengthAdjust="spacingAndGlyphs" stroke-linejoin="round" font-family="Liberation Sans" font-weight="bold" font-size="71"><tspan fill="#fff" stroke="#fff" stroke-width="5">chile</tspan></text>
<text x="1237" y="1023.5" textLength="115" lengthAdjust="spacingAndGlyphs" stroke-linejoin="round" font-family="Liberation Sans" font-weight="bold" font-size="71"><tspan fill="#2d6cb5" stroke="#2d6cb5" stroke-width="2.5">r</tspan><tspan fill="#e5404b" stroke="#e5404b" stroke-width="2.5">i</tspan><tspan fill="#ffffff" stroke="#ffffff" stroke-width="2.5">d</tspan><tspan fill="#2d6cb5" stroke="#2d6cb5" stroke-width="2.5">e</tspan></text>
<text x="1357.5" y="1023.5" textLength="130.5" lengthAdjust="spacingAndGlyphs" stroke-linejoin="round" font-family="Liberation Sans" font-weight="bold" font-size="71"><tspan fill="#000" stroke="#000" stroke-width="1">chile</tspan></text>
</svg></body></html>
